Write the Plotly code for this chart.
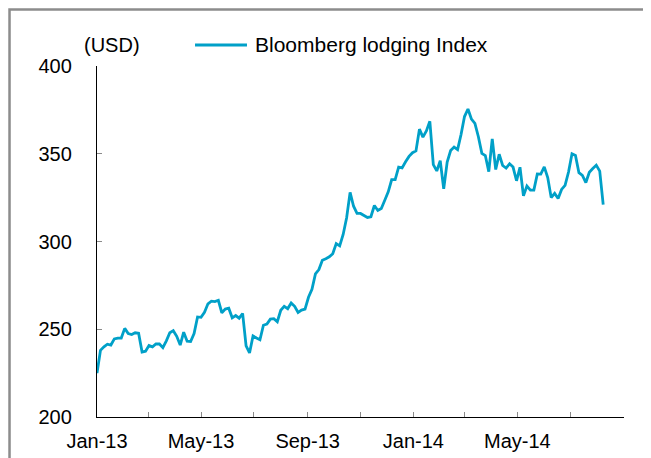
import pandas as pd
import plotly.graph_objects as go

# ---- data ----
start_date = "2013-01-01"
step = "4D"
index_values = [
    225.0, 238.0, 240.0, 241.5, 241.0, 244.5, 245.0, 245.0, 250.5, 247.5,
    247.0, 248.0, 247.7, 237.0, 237.5, 240.7, 240.0, 241.6, 241.6, 239.5,
    243.4, 248.0, 249.2, 246.0, 241.0, 248.3, 243.2, 243.0, 247.5, 257.0,
    256.8, 259.7, 264.5, 266.0, 265.8, 266.5, 259.4, 261.5, 262.0, 256.5,
    257.8, 256.3, 259.0, 240.5, 236.5, 246.2, 245.0, 244.0, 252.3, 253.0,
    255.8, 256.0, 254.3, 260.8, 263.0, 261.7, 265.0, 263.1, 259.6, 260.9,
    261.5, 268.2, 272.8, 281.5, 284.0, 289.3, 290.2, 291.3, 293.0, 298.8,
    297.5, 304.0, 313.5, 328.0, 320.1, 316.0, 316.0, 315.0, 313.7, 314.1,
    320.5, 317.7, 318.8, 323.5, 328.3, 335.3, 335.3, 342.4, 341.9, 345.4,
    348.5, 350.6, 351.6, 364.0, 359.5, 363.0, 368.5, 343.8, 340.2, 346.0,
    330.0, 345.3, 351.8, 353.8, 352.4, 361.0, 371.2, 375.5, 369.7, 367.3,
    359.7, 350.2, 349.0, 339.8, 358.5, 341.0, 349.7, 343.3, 341.8, 344.3,
    342.4, 334.6, 342.3, 326.0, 331.6, 329.3, 329.3, 338.5, 338.4, 342.5,
    336.4, 325.0, 327.4, 324.5, 329.7, 332.0, 339.6, 350.0, 349.0, 339.2,
    337.7, 333.6, 339.5, 341.6, 343.5, 340.1, 321.0,
]
series_name = "Bloomberg lodging Index"
unit_label = "(USD)"

x_tick_dates = ["2013-01-01", "2013-03-01", "2013-05-01", "2013-07-01",
                "2013-09-01", "2013-11-01", "2014-01-01", "2014-03-01",
                "2014-05-01", "2014-07-01", "2014-09-01"]
x_tick_labels = ["Jan-13", "", "May-13", "", "Sep-13", "", "Jan-14", "",
                 "May-14", "", ""]
y_tick_values = [200, 250, 300, 350, 400]

dates = pd.date_range(start_date, periods=len(index_values), freq=step)

LINE_COLOR = "#00a0c8"
FONT = "Liberation Sans, Arial, sans-serif"

fig = go.Figure()
fig.add_trace(go.Scatter(
    x=dates, y=index_values, mode="lines", name=series_name,
    line=dict(color=LINE_COLOR, width=2.8), showlegend=False,
))

fig.update_layout(
    width=651, height=458,
    margin=dict(l=89, r=35, t=58, b=49, autoexpand=False),
    paper_bgcolor="white", plot_bgcolor="white",
    font=dict(family=FONT, size=20, color="black"),
    xaxis=dict(
        range=["2013-01-01", "2014-09-01"],
        tickmode="array", tickvals=x_tick_dates, ticktext=x_tick_labels,
        ticks="inside", ticklen=5, tickwidth=1, tickcolor="#8a8a8a",
        showline=True, linecolor="black", linewidth=1.3,
        showgrid=False, zeroline=False, automargin=False,
        ticklabelstandoff=6,
        tickfont=dict(family=FONT, size=20),
    ),
    yaxis=dict(
        range=[200, 400],
        tickmode="array", tickvals=y_tick_values,
        ticks="inside", ticklen=5, tickwidth=1, tickcolor="#8a8a8a",
        showline=True, linecolor="black", linewidth=1.3,
        showgrid=False, zeroline=False, automargin=False,
        ticklabelstandoff=20,
        tickfont=dict(family=FONT, size=20),
    ),
)

# outer grey frame
fig.add_shape(type="rect", xref="paper", yref="paper",
              x0=-0.166, x1=1.1, y0=-0.2, y1=1.161,
              line=dict(color="#8c8c8c", width=2.5), fillcolor="rgba(0,0,0,0)",
              layer="below")

# unit label
fig.add_annotation(text=unit_label, xref="paper", yref="paper",
                   x=-0.0285, y=1.06, xanchor="left", yanchor="middle",
                   showarrow=False, font=dict(family=FONT, size=20))

# legend (line sample + label)
fig.add_shape(type="line", xref="paper", yref="paper",
              x0=0.186, x1=0.2846, y0=1.0598, y1=1.0598,
              line=dict(color=LINE_COLOR, width=2.8))
fig.add_annotation(text=series_name, xref="paper", yref="paper",
                   x=0.296, y=1.06, xanchor="left", yanchor="middle",
                   showarrow=False, font=dict(family=FONT, size=21))

fig.write_html("out.html")
